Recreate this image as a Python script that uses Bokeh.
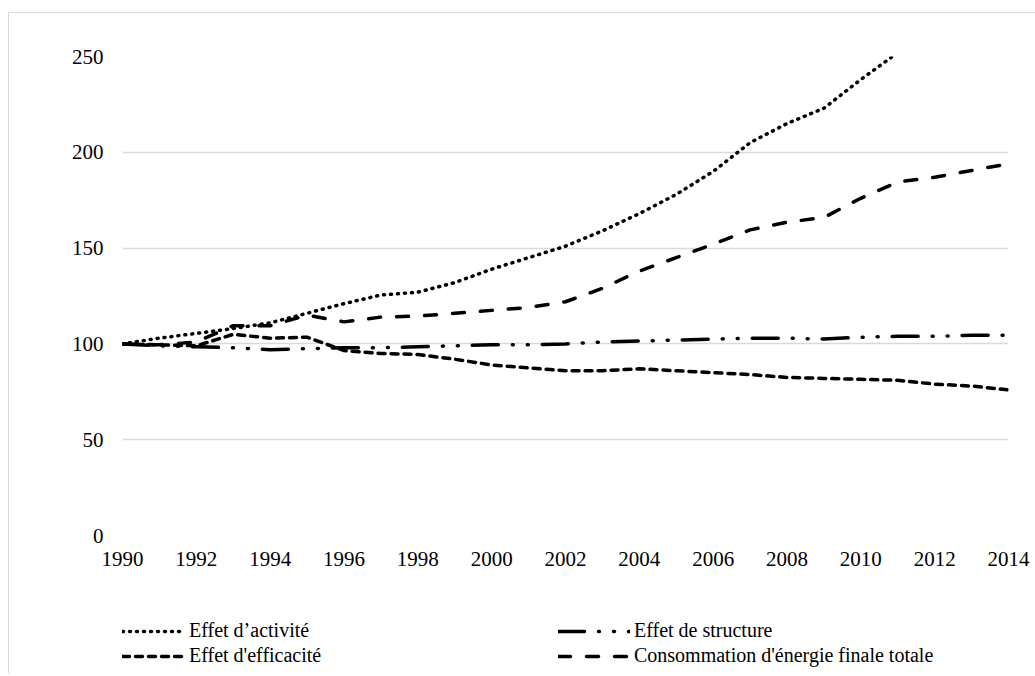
from bokeh.plotting import figure
from bokeh.layouts import column
from bokeh.models import FixedTicker, Legend, LegendItem, Range1d
from bokeh.embed import file_html
from bokeh.resources import INLINE

years = list(range(1990, 2015))
activite_years = list(range(1990, 2012))
activite = [100, 103, 105.5, 108, 111, 116, 121, 125.5, 127, 132, 139, 145, 151,
            159, 168, 178, 190, 205, 215, 223, 238, 252]
structure = [100, 99, 98.5, 98, 97, 97.5, 98, 98, 98.5, 99, 99.5, 99.5, 100,
             101, 101.5, 102, 102.5, 103, 103, 102.5, 103.5, 104, 104, 104.5, 104.5]
efficacite = [100, 99.5, 99, 105, 103, 103.5, 96.5, 95, 94.5, 92, 89, 87.5, 86,
              86, 87, 86, 85, 84, 82.5, 82, 81.5, 81, 79, 78, 76]
consommation = [100, 99.5, 101, 109.5, 109.5, 115, 111.5, 114, 114.5, 116, 117.5,
                119, 122, 129, 138, 145, 152, 159.5, 163.5, 166, 176, 184.5, 187,
                190.5, 194]
x_ticks = list(range(1990, 2015, 2))
y_ticks = [0, 50, 100, 150, 200, 250]

label_act = "Effet d\u2019activit\u00e9"
label_str = "Effet de structure"
label_eff = "Effet d'efficacit\u00e9"
label_con = "Consommation d'\u00e9nergie finale totale"

FONT = "Liberation Serif"
GRID = "#d9d9d9"
W = 3.5
STYLES = {
    "act": dict(line_dash="1 6", line_cap="round"),
    "str": dict(line_dash="26 14 1 14 1 14", line_cap="round"),
    "eff": dict(line_dash="7 6", line_cap="round"),
    "con": dict(line_dash="12 16", line_cap="round"),
}
SERIES = {
    "act": (activite_years, activite),
    "str": (years, structure),
    "eff": (years, efficacite),
    "con": (years, consommation),
}

p = figure(width=1026, height=580, output_backend="svg", toolbar_location=None,
           x_range=Range1d(1990, 2014), y_range=Range1d(0, 250),
           min_border_left=113, min_border_right=27, min_border_top=43,
           min_border_bottom=58)
p.outline_line_color = None
p.background_fill_color = "white"
p.border_fill_color = "white"

for ax in (p.xaxis, p.yaxis):
    ax.axis_line_color = None
    ax.major_tick_line_color = None
    ax.minor_tick_line_color = None
    ax.major_label_text_font = FONT
    ax.major_label_text_font_size = "21px"
    ax.major_label_text_color = "black"
p.xaxis.ticker = FixedTicker(ticks=x_ticks)
p.yaxis.ticker = FixedTicker(ticks=y_ticks)
p.yaxis.major_label_standoff = 13
p.xaxis.major_label_standoff = 10

p.xgrid.grid_line_color = None
p.ygrid.grid_line_color = GRID
p.ygrid.grid_line_width = 1.5
p.ygrid.ticker = FixedTicker(ticks=y_ticks)

for k, (xs, ys) in SERIES.items():
    p.line(xs, ys, line_color="black", line_width=W, **STYLES[k])

# legend panel below the chart (its own lines lie outside its visible range)
q = figure(width=1026, height=80, output_backend="svg", toolbar_location=None,
           x_range=Range1d(0, 1), y_range=Range1d(0, 1),
           x_axis_location=None, y_axis_location=None,
           min_border_left=0, min_border_right=0, min_border_top=0,
           min_border_bottom=0)
q.outline_line_color = None
q.grid.visible = False
q.border_fill_color = "white"
q.background_fill_color = "white"

g = {k: q.line(xs, ys, line_color="black", line_width=W, **STYLES[k])
     for k, (xs, ys) in SERIES.items()}


def make_legend(items, loc, gw):
    lg = Legend(items=items, location=loc, orientation="vertical")
    lg.border_line_color = None
    lg.background_fill_alpha = 0
    lg.padding = 0
    lg.margin = 0
    lg.glyph_width = gw
    lg.glyph_height = 20
    lg.label_height = 20
    lg.label_standoff = 4
    lg.spacing = 2
    lg.label_text_font = FONT
    lg.label_text_font_size = "20px"
    lg.label_text_color = "black"
    return lg


q.add_layout(make_legend([LegendItem(label=label_act, renderers=[g["act"]]),
                          LegendItem(label=label_eff, renderers=[g["eff"]])], (0, 6), 63))
q.add_layout(make_legend([LegendItem(label=label_str, renderers=[g["str"]]),
                          LegendItem(label=label_con, renderers=[g["con"]])], (436, 6), 72))

layout = column(p, q, spacing=0)
layout.margin = (12, 0, 0, 8)
layout.styles = {"border-left": "1px solid #d9d9d9", "border-top": "1px solid #d9d9d9"}

open("out.html", "w").write(file_html(layout, INLINE))
